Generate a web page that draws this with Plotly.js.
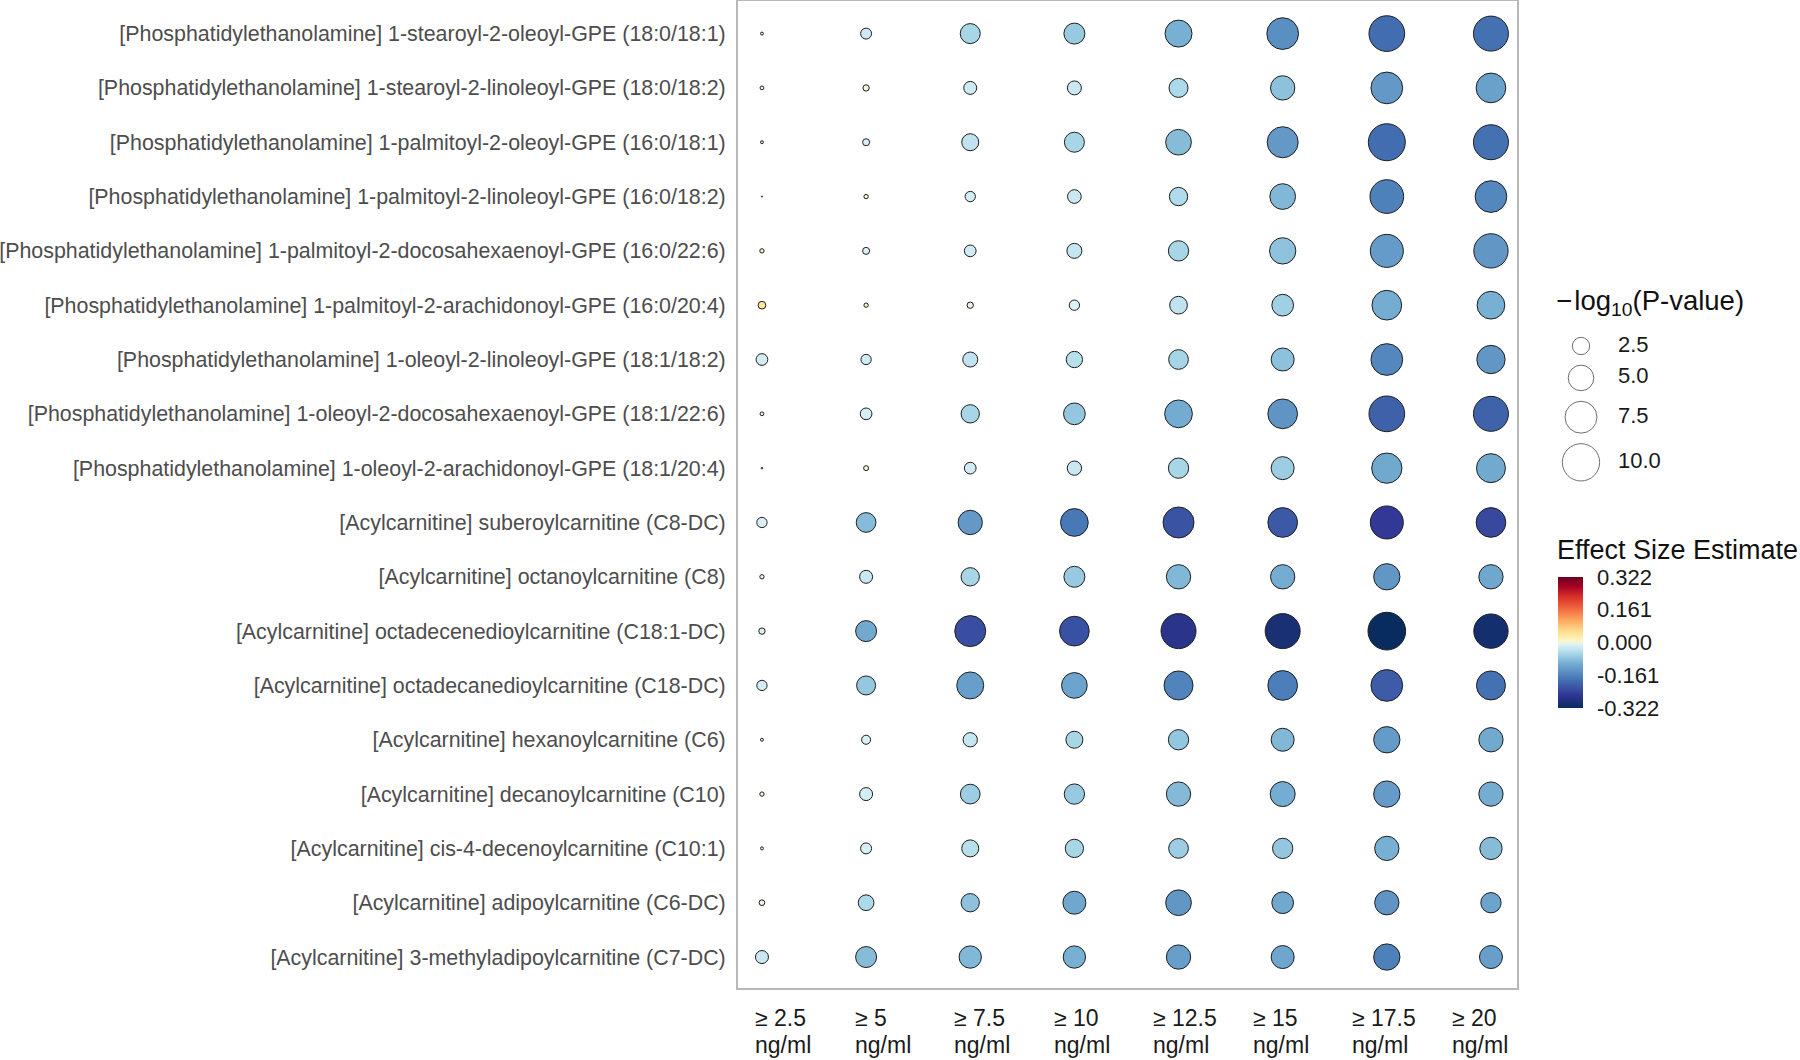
<!DOCTYPE html>
<html><head><meta charset="utf-8">
<script src="https://cdn.plot.ly/plotly-3.0.1.min.js"></script>
<style>html,body{margin:0;padding:0;background:#fff}#chart{width:1800px;height:1060px}</style>
</head><body><div id="chart"></div>
<script>
const metabolites = [
  "[Phosphatidylethanolamine] 1-stearoyl-2-oleoyl-GPE (18:0/18:1)",
  "[Phosphatidylethanolamine] 1-stearoyl-2-linoleoyl-GPE (18:0/18:2)",
  "[Phosphatidylethanolamine] 1-palmitoyl-2-oleoyl-GPE (16:0/18:1)",
  "[Phosphatidylethanolamine] 1-palmitoyl-2-linoleoyl-GPE (16:0/18:2)",
  "[Phosphatidylethanolamine] 1-palmitoyl-2-docosahexaenoyl-GPE (16:0/22:6)",
  "[Phosphatidylethanolamine] 1-palmitoyl-2-arachidonoyl-GPE (16:0/20:4)",
  "[Phosphatidylethanolamine] 1-oleoyl-2-linoleoyl-GPE (18:1/18:2)",
  "[Phosphatidylethanolamine] 1-oleoyl-2-docosahexaenoyl-GPE (18:1/22:6)",
  "[Phosphatidylethanolamine] 1-oleoyl-2-arachidonoyl-GPE (18:1/20:4)",
  "[Acylcarnitine] suberoylcarnitine (C8-DC)",
  "[Acylcarnitine] octanoylcarnitine (C8)",
  "[Acylcarnitine] octadecenedioylcarnitine (C18:1-DC)",
  "[Acylcarnitine] octadecanedioylcarnitine (C18-DC)",
  "[Acylcarnitine] hexanoylcarnitine (C6)",
  "[Acylcarnitine] decanoylcarnitine (C10)",
  "[Acylcarnitine] cis-4-decenoylcarnitine (C10:1)",
  "[Acylcarnitine] adipoylcarnitine (C6-DC)",
  "[Acylcarnitine] 3-methyladipoylcarnitine (C7-DC)"
];
const thresholds = ["≥ 2.5", "≥ 5", "≥ 7.5", "≥ 10", "≥ 12.5", "≥ 15", "≥ 17.5", "≥ 20"];
const unitLabel = "ng/ml";

// -log10(P-value), one row per metabolite, one column per threshold
const negLog10P = [
  [0.20, 1.17, 3.22, 3.51, 5.51, 7.40, 9.22, 8.88],
  [0.26, 0.51, 1.54, 1.74, 2.94, 4.56, 7.40, 6.56],
  [0.20, 0.59, 2.43, 3.22, 5.04, 7.10, 9.85, 8.88],
  [0.06, 0.31, 1.06, 1.68, 2.76, 5.04, 8.28, 7.40],
  [0.31, 0.59, 1.30, 1.96, 3.31, 5.26, 7.97, 8.56],
  [0.68, 0.31, 0.51, 1.06, 2.60, 3.72, 6.56, 5.78],
  [1.30, 1.06, 1.96, 2.26, 3.14, 4.13, 7.40, 6.01],
  [0.26, 1.30, 2.76, 3.72, 5.78, 6.56, 9.22, 8.88],
  [0.12, 0.37, 1.30, 1.81, 3.31, 4.13, 6.81, 6.28],
  [1.06, 3.14, 4.56, 5.78, 7.10, 6.56, 7.97, 6.56],
  [0.31, 1.54, 2.76, 3.51, 4.56, 4.56, 5.26, 4.56],
  [0.51, 3.51, 7.10, 6.56, 8.88, 8.88, 10.20, 8.56],
  [1.06, 2.94, 5.51, 5.04, 6.28, 6.56, 7.40, 6.28],
  [0.20, 0.86, 1.81, 2.43, 3.31, 4.13, 5.26, 4.56],
  [0.31, 1.54, 3.14, 3.31, 4.56, 4.80, 5.26, 4.56],
  [0.20, 1.17, 2.43, 2.76, 3.14, 3.31, 4.56, 3.91],
  [0.44, 2.12, 2.76, 4.13, 5.04, 3.72, 4.56, 3.31],
  [1.54, 3.51, 3.91, 3.91, 4.56, 4.13, 5.26, 4.13]
];

// Effect size estimates
const effectSize = [
  [-0.005, -0.025, -0.055, -0.070, -0.100, -0.145, -0.190, -0.185],
  [ 0.005,  0.000, -0.025, -0.028, -0.050, -0.080, -0.130, -0.120],
  [ 0.003, -0.015, -0.035, -0.055, -0.085, -0.130, -0.190, -0.185],
  [ 0.000,  0.005, -0.020, -0.028, -0.048, -0.090, -0.165, -0.155],
  [ 0.020, -0.012, -0.022, -0.030, -0.055, -0.078, -0.128, -0.135],
  [ 0.040,  0.015, -0.002, -0.012, -0.035, -0.062, -0.103, -0.100],
  [-0.020, -0.022, -0.035, -0.042, -0.056, -0.080, -0.155, -0.135],
  [ 0.000, -0.020, -0.055, -0.073, -0.105, -0.138, -0.205, -0.203],
  [ 0.000,  0.003, -0.022, -0.028, -0.055, -0.065, -0.110, -0.108],
  [-0.016, -0.086, -0.130, -0.175, -0.222, -0.215, -0.255, -0.235],
  [ 0.000, -0.028, -0.055, -0.070, -0.090, -0.103, -0.135, -0.112],
  [-0.012, -0.108, -0.228, -0.225, -0.270, -0.295, -0.322, -0.305],
  [-0.020, -0.072, -0.122, -0.115, -0.160, -0.168, -0.212, -0.185],
  [ 0.000, -0.016, -0.030, -0.055, -0.074, -0.090, -0.128, -0.108],
  [ 0.003, -0.020, -0.065, -0.070, -0.088, -0.103, -0.128, -0.103],
  [ 0.012, -0.016, -0.042, -0.055, -0.065, -0.073, -0.100, -0.085],
  [-0.002, -0.050, -0.080, -0.112, -0.135, -0.110, -0.138, -0.115],
  [-0.028, -0.085, -0.090, -0.100, -0.122, -0.113, -0.165, -0.122]
];

const sizeLegendValues = [2.5, 5.0, 7.5, 10.0];
const sizeLegendLabels = ["2.5", "5.0", "7.5", "10.0"];
const colorbarTickValues = [-0.322, -0.161, 0, 0.161, 0.322];
const colorbarTickLabels = ["-0.322", "-0.161", "0.000", "0.161", "0.322"];

// ---------- styling / geometry ----------
const W = 1800, H = 1060;
const px = (p) => p / W;           // x pixel -> paper
const py = (p) => 1 - p / H;       // y pixel -> paper
const FONT = "Liberation Sans, Arial, sans-serif";
const sizeOf = (v) => Math.max(12.65 * Math.sqrt(v) - 2.7, 1.2);

const colorscale = [
  [0.00, "#082c5e"], [0.10, "#313695"], [0.22, "#4575b4"], [0.34, "#74add1"],
  [0.42, "#abd9e9"], [0.485, "#e0f3f8"], [0.515, "#fff6c4"], [0.58, "#fee090"],
  [0.66, "#fdae61"], [0.75, "#f46d43"], [0.85, "#d73027"], [0.93, "#a50026"],
  [1.00, "#6b001f"]
];

const xs = [], ys = [], sz = [], cols = [];
metabolites.forEach((m, i) => {
  thresholds.forEach((t, j) => {
    xs.push(t); ys.push(m);
    sz.push(sizeOf(negLog10P[i][j]));
    cols.push(effectSize[i][j]);
  });
});

const main = {
  type: "scatter", mode: "markers", x: xs, y: ys,
  xaxis: "x", yaxis: "y", showlegend: false, hoverinfo: "x+y",
  marker: {
    size: sz, color: cols, colorscale: colorscale, cmin: -0.322, cmax: 0.322,
    line: { color: "#1e1e1e", width: 1 }, opacity: 1,
    colorbar: {
      x: px(1558), xanchor: "left", xpad: 0, ypad: 0,
      y: py(708), yanchor: "bottom",
      thickness: 25, thicknessmode: "pixels", len: 131, lenmode: "pixels",
      outlinewidth: 0,
      tickvals: colorbarTickValues, ticktext: colorbarTickLabels,
      ticks: "outside", ticklen: 10, tickcolor: "rgba(255,255,255,0)", tickwidth: 1,
      tickfont: { family: FONT, size: 22, color: "#1a1a1a" }
    }
  }
};

// size legend drawn in its own small axes (1 data unit = 1 pixel)
const legY = [];
let prevD = null;
sizeLegendValues.forEach((v, i) => {
  const d = sizeOf(v) + 1;
  if (i === 0) legY.push(346);
  else legY.push(legY[i - 1] + prevD / 2 + d / 2 + 9.5);
  prevD = d;
});
const legMarkers = {
  type: "scatter", mode: "markers", x: sizeLegendValues.map(() => 0), y: legY,
  xaxis: "x2", yaxis: "y2", showlegend: false, hoverinfo: "skip",
  marker: { size: sizeLegendValues.map(sizeOf), color: "rgba(0,0,0,0)", line: { color: "#333", width: 1 } }
};
const legText = {
  type: "scatter", mode: "text", x: sizeLegendValues.map(() => 37), y: legY,
  text: sizeLegendLabels, textposition: "middle right",
  textfont: { family: FONT, size: 22, color: "#1a1a1a" },
  xaxis: "x2", yaxis: "y2", showlegend: false, hoverinfo: "skip"
};

// x tick labels as annotations (positioned on the categorical x axis)
const annotations = [];
thresholds.forEach((t, j) => {
  const xpos = -0.085 + 0.956 * j;
  annotations.push({
    xref: "x", yref: "paper", x: xpos, y: py(1018),
    xanchor: "left", yanchor: "middle", align: "left", showarrow: false,
    text: t, font: { family: FONT, size: 23, color: "#1a1a1a" }
  });
  annotations.push({
    xref: "x", yref: "paper", x: xpos, y: py(1045),
    xanchor: "left", yanchor: "middle", align: "left", showarrow: false,
    text: unitLabel, font: { family: FONT, size: 23, color: "#1a1a1a" }
  });
});
annotations.push({
  xref: "paper", yref: "paper", x: px(1554), y: py(302), xanchor: "left", yanchor: "middle",
  showarrow: false, text: "\u2212\u200alog<sub>10</sub>(P-value)",
  font: { family: FONT, size: 27.5, color: "#111" }
});
annotations.push({
  xref: "paper", yref: "paper", x: px(1555), y: py(550), xanchor: "left", yanchor: "middle",
  showarrow: false, text: "Effect Size Estimate",
  font: { family: FONT, size: 27, color: "#111" }
});

const layout = {
  width: W, height: H, margin: { l: 0, r: 0, t: 0, b: 0 },
  paper_bgcolor: "#fff", plot_bgcolor: "#fff",
  font: { family: FONT },
  xaxis: {
    domain: [px(738), px(1517)], type: "category", categoryarray: thresholds, categoryorder: "array",
    range: [-0.23, 7.25], showgrid: false, zeroline: false, showticklabels: false, ticks: "",
    showline: true, mirror: true, linecolor: "#b8b8b8", linewidth: 2, fixedrange: true
  },
  yaxis: {
    domain: [py(988), py(1)], type: "category", categoryarray: metabolites, categoryorder: "array",
    range: [17.57, -0.6], showgrid: false, zeroline: false, ticks: "",
    ticklabelstandoff: 6,
    tickfont: { family: FONT, size: 21.4, color: "#4d4d4d" },
    showline: true, mirror: true, linecolor: "#b8b8b8", linewidth: 2, fixedrange: true
  },
  xaxis2: { domain: [px(1560), px(1700)], range: [-21, 119], visible: false, fixedrange: true },
  yaxis2: { domain: [py(490), py(325)], range: [490, 325], visible: false, fixedrange: true },
  annotations: annotations
};

Plotly.newPlot("chart", [main, legMarkers, legText], layout, { displayModeBar: false, staticPlot: true });
</script></body></html>
